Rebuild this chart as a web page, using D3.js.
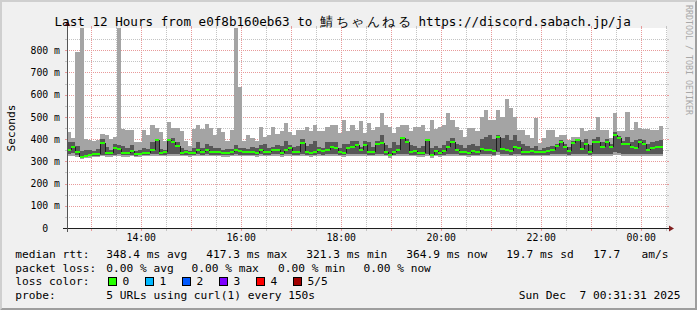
<!DOCTYPE html>
<html><head><meta charset="utf-8">
<script src="https://cdn.jsdelivr.net/npm/d3@7"></script>
<style>
html,body{margin:0;padding:0;background:#f0f0f0;}
svg{display:block;}
text{font-family:"DejaVu Sans Mono",monospace;white-space:pre;fill:#000;}
</style></head><body>
<svg id="c" width="697" height="310"></svg>
<script>
// ---------- data ----------
const titleA = "Last 12 Hours from e0f8b160eb63 to";
const titleCJK = "鯖ちゃんねる";
const titleB = "https://discord.sabach.jp/ja";
const yAxisTitle = "Seconds";
const watermark = "RRDTOOL / TOBI OETIKER";
const yTickValues = [0, 100, 200, 300, 400, 500, 600, 700, 800];
const stepSeconds = 300;
// five sorted ping values per 5-minute step (ms)
const pingMax = [433,405,790,950,400,396,392,395,425,420,
 400,410,950,445,440,440,385,388,441,418,
 463,450,430,390,478,450,450,437,390,370,
 445,463,445,468,452,418,452,430,392,440,
 950,636,390,417,405,390,455,410,420,455,
 425,435,472,430,417,440,440,456,435,462,
 435,435,456,462,462,427,486,435,462,440,
 483,427,474,440,456,517,462,456,427,456,
 462,462,435,456,456,462,435,486,446,456,
 462,517,486,456,443,411,451,451,437,501,
 531,486,486,531,501,579,540,501,440,440,
 420,405,494,382,405,440,440,411,418,418,
 396,411,411,451,437,440,440,501,440,440,
 405,517,437,437,524,440,476,451,446,446,
 440,440,461];
const pingHigh = [385,385,370,345,350,350,345,355,400,365,
 350,380,375,370,360,375,348,350,360,355,
 385,400,355,350,400,405,385,360,350,348,
 360,385,360,380,370,360,360,350,355,355,
 375,360,358,355,365,360,375,380,360,365,
 375,370,390,375,365,370,400,370,380,390,
 365,360,385,385,385,360,380,380,390,390,
 365,390,385,365,390,420,375,360,385,375,
 410,400,375,370,360,370,400,360,370,360,
 375,390,405,380,375,360,375,380,370,400,
 410,420,400,420,405,420,395,420,390,380,
 370,360,370,352,358,365,370,380,395,380,
 365,392,400,385,400,375,400,410,385,400,
 380,430,415,390,410,385,395,400,395,380,
 385,390,395];
const median = [351,366,343,321.3,324,330,333,333,384,337,
 337,360,355,337,337,345,333,335,339,339,
 350,395,337,340,396,388,370,337,343,337,
 337,350,340,352,343,343,343,337,337,340,
 351,345,343,343,343,337,351,343,343,351,
 351,337,351,360,343,340,382,343,337,343,
 351,345,350,366,360,343,337,360,366,373,
 351,373,343,340,377,382,343,328,343,351,
 405,388,343,345,337,337,396,328,345,337,
 345,366,388,351,343,343,337,346,340,355,
 350,350,346,411,355,350,346,364,360,343,
 340,346,343,340,343,346,350,370,388,366,
 346,382,396,356,377,343,388,388,366,388,
 366,417.3,405,380,378,363,360,388,380,352,
 362,364,364.9];
const pingLow = [335,338,330,318,320,322,325,326,330,328,
 328,330,332,328,328,330,326,327,330,330,
 332,333,330,330,335,335,332,330,330,328,
 330,332,330,333,330,330,330,328,328,330,
 332,330,330,330,330,328,332,330,330,332,
 332,328,332,333,330,330,332,330,328,330,
 332,330,332,335,333,330,328,333,335,335,
 332,335,330,330,335,335,330,322,330,332,
 335,335,330,330,328,328,335,322,330,328,
 330,333,335,332,330,330,328,330,330,333,
 332,332,330,340,333,332,330,335,333,330,
 330,330,330,330,330,330,332,335,335,333,
 330,335,335,333,335,330,335,335,333,335,
 333,340,338,335,335,333,333,335,335,333,
 333,333,335];
const pingMin = [322,325,320,312,314,316,318,320,322,320,
 320,322,322,320,320,322,318,320,322,322,
 324,324,322,322,325,326,324,322,322,320,
 322,324,322,324,322,322,322,320,320,322,
 322,322,322,322,322,320,324,322,322,324,
 324,320,324,325,322,322,324,322,320,322,
 324,322,324,325,325,322,320,324,325,326,
 324,325,322,322,325,326,322,316,322,324,
 326,326,322,322,320,320,326,316,322,320,
 322,324,326,324,322,322,320,322,322,324,
 324,324,322,328,324,324,322,325,324,322,
 322,322,322,322,322,322,324,326,326,324,
 322,326,326,324,326,322,326,326,324,326,
 324,328,327,326,326,324,324,326,326,324,
 324,324,326];
const legendMedian = ["median rtt:", "348.4 ms avg", "417.3 ms max", "321.3 ms min", "364.9 ms now", "19.7 ms sd", "17.7", "am/s"];
const legendLoss = ["packet loss:", "0.00 % avg", "0.00 % max", "0.00 % min", "0.00 % now"];
const lossTitle = "loss color:";
const lossLabels = ["0", "1", "2", "3", "4", "5/5"];
const lossColors = ["#26ff00", "#00b8ff", "#0059ff", "#7e00ff", "#ff0000", "#a10000"];
const probeText = ["probe:", "5 URLs using curl(1) every 150s"];
const stampText = "Sun Dec  7 00:31:31 2025";

// ---------- layout ----------
const W = 697, H = 310;
const X0 = 67, X1 = 667, Y0 = 228, Y1 = 28;
const start = new Date(2025, 11, 6, 12, 31, 31);
const end = new Date(2025, 11, 7, 0, 31, 31);
const svg = d3.select("#c");

const x = d3.scaleTime().domain([start, end]).range([X0, X1]);
const y = d3.scaleLinear().domain([0, 900]).range([Y0, Y1]).clamp(true);

// 3d border
svg.append("rect").attr("width", W).attr("height", H).attr("fill", "#f0f0f0");
svg.append("path").attr("d", `M0,${H}L2,${H-2}L2,2L${W-2},2L${W},0L0,0Z`).attr("fill", "#cfcfcf");
svg.append("path").attr("d", `M2,${H-2}L${W-2},${H-2}L${W-2},2L${W},0L${W},${H}L0,${H}Z`).attr("fill", "#9e9e9e");

// canvas
svg.append("rect").attr("x", X0).attr("y", Y1).attr("width", X1 - X0).attr("height", Y0 - Y1).attr("fill", "#fff");

const gridMinor = "#c4c4c4", gridMajor = "#e89a9a";
const grid = svg.append("g").attr("shape-rendering", "crispEdges");
// horizontal grid
const hVals = d3.range(50, 900, 50);
hVals.forEach(v => {
  const yy = Math.round(y(v)) + 0.5;
  const col = v % 100 === 0 ? gridMajor : gridMinor;
  grid.append("line").attr("x1", X0).attr("x2", X1).attr("y1", yy).attr("y2", yy)
    .attr("stroke", col).attr("stroke-dasharray", "1,1");
  grid.append("line").attr("x1", X0 - 2).attr("x2", X0).attr("y1", yy).attr("y2", yy).attr("stroke", col);
  grid.append("line").attr("x1", X1).attr("x2", X1 + 2).attr("y1", yy).attr("y2", yy).attr("stroke", col);
});
// vertical grid
const vTimes = d3.timeMinute.every(30).range(start, end);
vTimes.forEach(t => {
  const xx = Math.round(x(t)) + 0.5;
  const col = t.getMinutes() === 0 ? gridMajor : gridMinor;
  grid.append("line").attr("x1", xx).attr("x2", xx).attr("y1", Y1).attr("y2", Y0)
    .attr("stroke", col).attr("stroke-dasharray", "1,1");
  grid.append("line").attr("x1", xx).attr("x2", xx).attr("y1", Y1 - 2).attr("y2", Y1).attr("stroke", col);
  grid.append("line").attr("x1", xx).attr("x2", xx).attr("y1", Y0).attr("y2", Y0 + 3).attr("stroke", col);
});

// data
const times = median.map((_, i) => new Date(start.getTime() + i * stepSeconds * 1000));
const tNext = i => new Date(times[i].getTime() + stepSeconds * 1000);
const dataG = svg.append("g").attr("shape-rendering", "crispEdges");
const idx = d3.range(median.length);
dataG.selectAll("rect.outer").data(idx).join("rect")
  .attr("x", i => x(times[i])).attr("width", i => x(tNext(i)) - x(times[i]))
  .attr("y", i => y(pingMax[i])).attr("height", i => y(pingMin[i]) - y(pingMax[i]))
  .attr("fill", "#a4a4a4");
dataG.selectAll("rect.inner").data(idx).join("rect")
  .attr("x", i => x(times[i])).attr("width", i => x(tNext(i)) - x(times[i]))
  .attr("y", i => y(pingHigh[i])).attr("height", i => y(pingLow[i]) - y(pingHigh[i]))
  .attr("fill", "#585858");
// step connectors
dataG.selectAll("line.conn").data(idx.slice(1)).join("line")
  .attr("x1", i => Math.round(x(times[i])) + 0.5).attr("x2", i => Math.round(x(times[i])) + 0.5)
  .attr("y1", i => y(median[i - 1])).attr("y2", i => y(median[i]))
  .attr("stroke", "#1e1e1e");
dataG.selectAll("rect.med").data(idx).join("rect")
  .attr("x", i => x(times[i])).attr("width", i => x(tNext(i)) - x(times[i]))
  .attr("y", i => y(median[i]) - 1).attr("height", 2)
  .attr("fill", lossColors[0]);

// axes lines and arrows
svg.append("line").attr("x1", X0 - 4).attr("x2", X1 + 4).attr("y1", Y0 + 0.5).attr("y2", Y0 + 0.5)
  .attr("stroke", "#1f1f1f").attr("shape-rendering", "crispEdges");
svg.append("line").attr("x1", X0 + 0.5).attr("x2", X0 + 0.5).attr("y1", Y0 + 4).attr("y2", Y1 - 4)
  .attr("stroke", "#555").attr("shape-rendering", "crispEdges");
svg.append("path").attr("d", `M${X1+2},${Y0-2.5}L${X1+2},${Y0+3.5}L${X1+7},${Y0+0.5}Z`).attr("fill", "#801f1f");
svg.append("path").attr("d", `M${X0-2.5},${Y1-2}L${X0+3.5},${Y1-2}L${X0+0.5},${Y1-7}Z`).attr("fill", "#801f1f");

// axis labels via d3 axes
const xLab = svg.append("g").attr("transform", `translate(0,${Y0})`)
  .call(d3.axisBottom(x).tickValues(d3.timeHour.every(2).range(start, end)).tickFormat(d3.timeFormat("%H:%M")).tickSize(0).tickPadding(6));
xLab.select(".domain").remove();
xLab.selectAll("text").attr("font-family", "DejaVu Sans Mono").attr("font-size", "9.8px").attr("fill", "#000");

const yLab = svg.append("g").attr("transform", `translate(${X0},0)`)
  .call(d3.axisLeft(y).tickValues(yTickValues).tickFormat(v => v === 0 ? "0" : `${v} m`).tickSize(0).tickPadding(7));
yLab.select(".domain").remove();
yLab.selectAll("text").attr("font-family", "DejaVu Sans Mono").attr("font-size", "9.8px").attr("fill", "#000")
  .attr("dx", v => v === 0 ? -11.8 : 0);

// title
const tf = "12.6px";
svg.append("text").attr("x", 54.5).attr("y", 26).attr("font-size", tf).text(titleA);
svg.append("text").attr("x", 320).attr("y", 26).attr("font-size", "13px").attr("font-family", "Noto Sans CJK JP")
  .attr("textLength", 91).attr("lengthAdjust", "spacing").text(titleCJK);
svg.append("text").attr("x", 418.5).attr("y", 26).attr("font-size", tf).text(titleB);

// y title
svg.append("text").attr("transform", "translate(15,128) rotate(-90)").attr("text-anchor", "middle")
  .attr("font-size", "11.2px").text(yAxisTitle);
// watermark
svg.append("text").attr("transform", "translate(686,5) rotate(90)").attr("font-size", "8.3px")
  .style("fill", "#a8a8a8").text(watermark);

// legend
const lf = "11.2px";
const rowY = [258, 271.7, 285.4, 299];
const medX = [15.3, 106.3, 206.3, 306.3, 406.3, 506.3, 593.3, 641.5];
legendMedian.forEach((s, i) => svg.append("text").attr("x", medX[i]).attr("y", rowY[0]).attr("font-size", lf).text(s));
const lossX = [15.3, 106.3, 191.5, 278, 363.5];
legendLoss.forEach((s, i) => svg.append("text").attr("x", lossX[i]).attr("y", rowY[1]).attr("font-size", lf).text(s));
svg.append("text").attr("x", 15.3).attr("y", rowY[2]).attr("font-size", lf).text(lossTitle);
lossLabels.forEach((s, i) => {
  const bx = 108 + 37 * i;
  svg.append("rect").attr("x", bx + 0.5).attr("y", 277.5).attr("width", 8).attr("height", 8)
    .attr("fill", lossColors[i]).attr("stroke", "#000").attr("shape-rendering", "crispEdges");
  svg.append("text").attr("x", bx + 14.5).attr("y", rowY[2]).attr("font-size", lf).text(s);
});
svg.append("text").attr("x", 15.3).attr("y", rowY[3]).attr("font-size", lf).text(probeText[0]);
svg.append("text").attr("x", 106.3).attr("y", rowY[3]).attr("font-size", lf).text(probeText[1]);
svg.append("text").attr("x", 680.5).attr("y", rowY[3]).attr("text-anchor", "end").attr("font-size", lf).text(stampText);
</script>
</body></html>
